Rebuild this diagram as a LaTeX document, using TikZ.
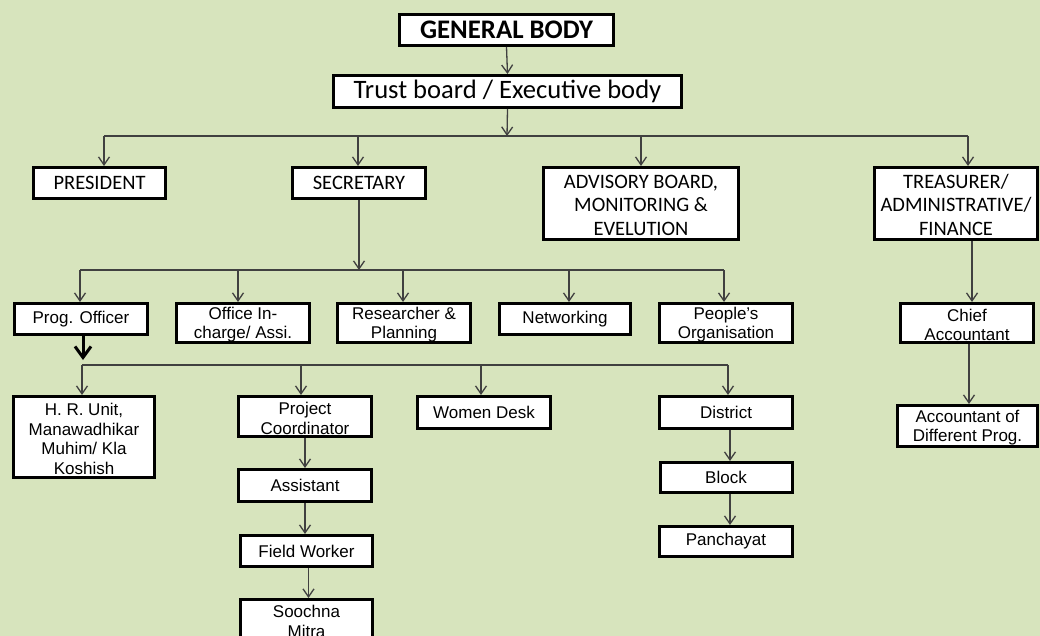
\documentclass[tikz,border=0pt]{standalone}
\usepackage{fontspec}
\newfontfamily\calfont{Carlito}
\newfontfamily\arifont{Liberation Sans}
\usetikzlibrary{arrows.meta}
\definecolor{bg}{HTML}{D7E4BD}
\definecolor{lncol}{HTML}{404040}
\newcommand\lpad{\rule{0pt}{16pt}}
\newcommand\mpad{\rule{0pt}{16.5pt}}
\begin{document}
\begin{tikzpicture}[x=1pt,y=-1pt,
 box/.style={draw=black, line width=3pt, fill=white, inner sep=0pt, align=center},
 topbox/.style={box, font=\calfont\fontsize{26.6}{30}\selectfont},
 midbox/.style={box, font=\calfont\fontsize{20.5}{23.5}\selectfont},
 lowbox/.style={box, font=\arifont\fontsize{17}{19.5}\selectfont},
 conn/.style={draw=lncol, line width=1.3pt},
 arr/.style={conn, -{Straight Barb[length=8pt,width=11pt]}},
 bigarr/.style={draw=black, line width=3pt, -{Straight Barb[length=11pt,width=16pt]}},
]
\fill[bg] (0,0) rectangle (1040,636);
\useasboundingbox (0,0) rectangle (1040,636);

% level 0/1
\node[topbox, font=\calfont\bfseries\fontsize{26.8}{30}\selectfont, minimum width=214, minimum height=31] (gb) at (506.5,30) {GENERAL BODY};
\node[topbox, minimum width=348, minimum height=32] (tb) at (507.5,91.5) {Trust board / Executive body};

% level 2
\node[midbox, minimum width=132, minimum height=31] (pres) at (99.5,183) {PRESIDENT};
\node[midbox, minimum width=133, minimum height=31] (sec) at (359,183) {SECRETARY};
\node[midbox, minimum width=195, minimum height=72] (adv) at (641,203.5) {\mpad ADVISORY BOARD,\\MONITORING \&\\EVELUTION};
\node[midbox, minimum width=163, minimum height=72] (tr) at (956,203.5) {\mpad TREASURER/\\ADMINISTRATIVE/\\FINANCE};

% level 3
\node[lowbox, minimum width=133, minimum height=31] (po) at (81,319) {Prog. Officer};
\node[lowbox, minimum width=133, minimum height=39] (oi) at (243,323) {\lpad Office In-\\charge/ Assi.};
\node[lowbox, minimum width=133, minimum height=39] (rp) at (404,323) {\lpad Researcher \&\\Planning};
\node[lowbox, minimum width=131, minimum height=31] (nw) at (565,319) {Networking};
\node[lowbox, minimum width=133, minimum height=39] (peo) at (726,323) {\lpad People’s\\Organisation};
\node[lowbox, minimum width=133, minimum height=39] (ca) at (967,323) {\lpad Chief\\Accountant};
\node[lowbox, minimum width=140, minimum height=41] (aod) at (967.5,426) {\lpad Accountant of\\Different Prog.};

% level 4
\node[lowbox, minimum width=141, minimum height=81] (hr) at (84,437) {\lpad H. R. Unit,\\Manawadhikar\\Muhim/ Kla\\Koshish};
\node[lowbox, minimum width=133, minimum height=40] (pc) at (305,416.5) {\lpad Project\\Coordinator};
\node[lowbox, minimum width=133, minimum height=32] (wd) at (484,412.5) {Women Desk};
\node[lowbox, minimum width=133, minimum height=32] (di) at (726,412.5) {District};
\node[lowbox, minimum width=132, minimum height=30] (bl) at (726,477.5) {Block};
\node[lowbox, minimum width=133, minimum height=30] (pa) at (726,541.5) {Panchayat};
\node[lowbox, minimum width=133, minimum height=32] (as) at (305,485.5) {Assistant};
\node[lowbox, minimum width=132, minimum height=31] (fw) at (306.5,551) {Field Worker};
\node[lowbox, minimum width=132, minimum height=40] (sm) at (306.5,619.5) {\lpad Soochna\\Mitra};

% connectors: general body -> trust board
\draw[arr] (gb.south) -- (tb.north);

% trust board bus
\coordinate (b1) at (507,136);
\coordinate (p1) at ([xshift=4.5pt]pres.north);
\coordinate (s1) at ([xshift=-1pt]sec.north);
\coordinate (a1) at (adv.north);
\coordinate (t1) at ([xshift=12pt]tr.north);
\draw[conn] (p1 |- b1) -- (t1 |- b1);
\draw[arr] (tb.south) -- (b1);
\foreach \nn in {p1,s1,a1,t1} \draw[arr] (\nn |- b1) -- (\nn);

% secretary bus
\coordinate (b2) at (359,270);
\coordinate (q1) at ([xshift=-1pt]po.north);
\coordinate (q2) at ([xshift=-5pt]oi.north);
\coordinate (q3) at ([xshift=-1pt]rp.north);
\coordinate (q4) at ([xshift=4pt]nw.north);
\coordinate (q5) at ([xshift=-2pt]peo.north);
\draw[conn] (q1 |- b2) -- (q5 |- b2);
\draw[arr] (sec.south) -- (b2);
\foreach \nn in {q1,q2,q3,q4,q5} \draw[arr] (\nn |- b2) -- (\nn);

% treasurer chain
\coordinate (t2) at ([xshift=16pt]tr.south);
\draw[arr] (t2) -- (t2 |- ca.north);
\coordinate (c2) at ([xshift=2pt]ca.south);
\draw[arr] (c2) -- (c2 |- aod.north);

% prog officer bus
\coordinate (po1) at ([xshift=2pt]po.south);
\coordinate (po2) at (83,360);
\draw[bigarr] (po1) -- (po2);
\coordinate (b3) at (82,365);
\coordinate (r1) at ([xshift=-2pt]hr.north);
\coordinate (r2) at ([xshift=-4pt]pc.north);
\coordinate (r3) at ([xshift=-3pt]wd.north);
\coordinate (r4) at ([xshift=2pt]di.north);
\draw[conn] (r1 |- b3) -- (r4 |- b3);
\foreach \nn in {r1,r2,r3,r4} \draw[arr] (\nn |- b3) -- (\nn);

% project chain
\draw[arr] (pc.south) -- (pc.south |- as.north);
\draw[arr] (as.south) -- (as.south |- fw.north);
\coordinate (f1) at ([xshift=2pt]fw.south);
\draw[arr] (f1) -- (f1 |- sm.north);

% district chain
\coordinate (d1) at ([xshift=4pt]di.south);
\draw[arr] (d1) -- (d1 |- bl.north);
\coordinate (d2) at ([xshift=4pt]bl.south);
\draw[arr] (d2) -- (d2 |- pa.north);
\end{tikzpicture}
\end{document}
